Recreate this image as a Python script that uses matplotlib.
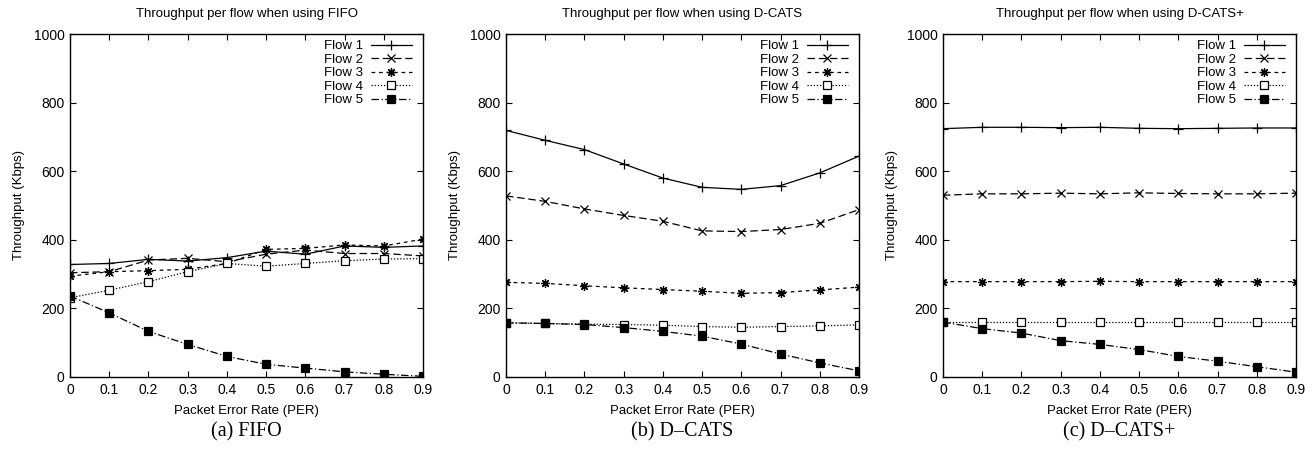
import matplotlib
matplotlib.use("Agg")
import matplotlib.pyplot as plt
from matplotlib.ticker import FixedLocator, FuncFormatter

plt.rcParams['font.family'] = ['Liberation Sans', 'DejaVu Sans']

per = [0.0, 0.1, 0.2, 0.3, 0.4, 0.5, 0.6, 0.7, 0.8, 0.9]

fifo_flow1 = [328, 331, 343, 338, 348, 367, 358, 382, 378, 382]
fifo_flow2 = [304, 307, 341, 346, 336, 358, 370, 360, 360, 353]
fifo_flow3 = [294, 307, 310, 314, 331, 372, 375, 385, 382, 402]
fifo_flow4 = [231, 253, 278, 307, 331, 323, 331, 339, 344, 345]
fifo_flow5 = [236, 187, 133, 95, 60, 37, 26, 15, 8, 2]

dcats_flow1 = [719, 690, 663, 621, 580, 553, 547, 558, 595, 644]
dcats_flow2 = [528, 512, 490, 471, 454, 426, 424, 430, 448, 488]
dcats_flow3 = [276, 273, 266, 260, 255, 250, 244, 246, 254, 262]
dcats_flow4 = [158, 156, 154, 153, 151, 147, 145, 147, 149, 152]
dcats_flow5 = [158, 156, 153, 144, 133, 119, 96, 67, 41, 18]

dcatsp_flow1 = [724, 728, 728, 727, 728, 725, 724, 725, 726, 726]
dcatsp_flow2 = [530, 534, 534, 536, 534, 537, 535, 534, 534, 536]
dcatsp_flow3 = [278, 278, 278, 278, 279, 278, 278, 278, 278, 278]
dcatsp_flow4 = [160, 160, 160, 160, 160, 160, 160, 160, 160, 160]
dcatsp_flow5 = [160, 141, 128, 106, 95, 80, 60, 46, 30, 14]

flow_names = ['Flow 1', 'Flow 2', 'Flow 3', 'Flow 4', 'Flow 5']
titles = ['Throughput per flow when using FIFO',
          'Throughput per flow when using D-CATS',
          'Throughput per flow when using D-CATS+']
captions = ['(a) FIFO', '(b) D\u2013CATS', '(c) D\u2013CATS+']
panels = [
    [fifo_flow1, fifo_flow2, fifo_flow3, fifo_flow4, fifo_flow5],
    [dcats_flow1, dcats_flow2, dcats_flow3, dcats_flow4, dcats_flow5],
    [dcatsp_flow1, dcatsp_flow2, dcatsp_flow3, dcatsp_flow4, dcatsp_flow5],
]

styles = [
    dict(linestyle='-', marker='+', markersize=7, mfc='black'),
    dict(linestyle=(0, (6, 3)), marker='x', markersize=5.5, mfc='black'),
    dict(linestyle=(0, (3, 3)), marker=(8, 2, 0), markersize=6.5, mfc='black'),
    dict(linestyle=(0, (1, 1.5)), marker='s', markersize=5.5, mfc='white'),
    dict(linestyle=(0, (6, 2, 1, 2)), marker='s', markersize=5.5, mfc='black'),
]

W, H = 1316, 450
fig = plt.figure(figsize=(W / 100, H / 100), dpi=100)
lefts = [70, 506, 943]

for i, series in enumerate(panels):
    ax = fig.add_axes([lefts[i] / W, 73 / H, 353 / W, 343 / H])
    for name, vals, st in zip(flow_names, series, styles):
        ax.plot(per, vals, color='black', linewidth=0.9, mec='black',
                mew=0.9, label=name, **st)
    ax.set_xlim(0, 0.9)
    ax.set_ylim(0, 1000)
    ax.xaxis.set_major_locator(FixedLocator(per))
    ax.yaxis.set_major_locator(FixedLocator([0, 200, 400, 600, 800, 1000]))
    ax.xaxis.set_major_formatter(FuncFormatter(lambda v, p: '0' if v == 0 else f'{v:.1f}'))
    ax.tick_params(direction='in', length=4, width=0.8, labelsize=10,
                   top=True, right=True, pad=4)
    for sp in ax.spines.values():
        sp.set_linewidth(1.0)
    ax.set_title(titles[i], fontsize=9.5, pad=12)
    ax.set_xlabel('Packet Error Rate (PER)', fontsize=9.5, labelpad=6)
    ax.set_ylabel('Throughput (Kbps)', fontsize=9.5, labelpad=6)
    ax.legend(loc='upper right', frameon=False, markerfirst=False,
              handlelength=3.1, handletextpad=0.6, labelspacing=0.1,
              fontsize=9.5, numpoints=1, borderaxespad=0.05,
              bbox_to_anchor=(0.985, 1.0))
    fig.text((lefts[i] + 176) / W, 18 / H, captions[i], ha='center', va='center',
             fontsize=14.5, family='Liberation Serif')

fig.savefig('out.png', dpi=100)
